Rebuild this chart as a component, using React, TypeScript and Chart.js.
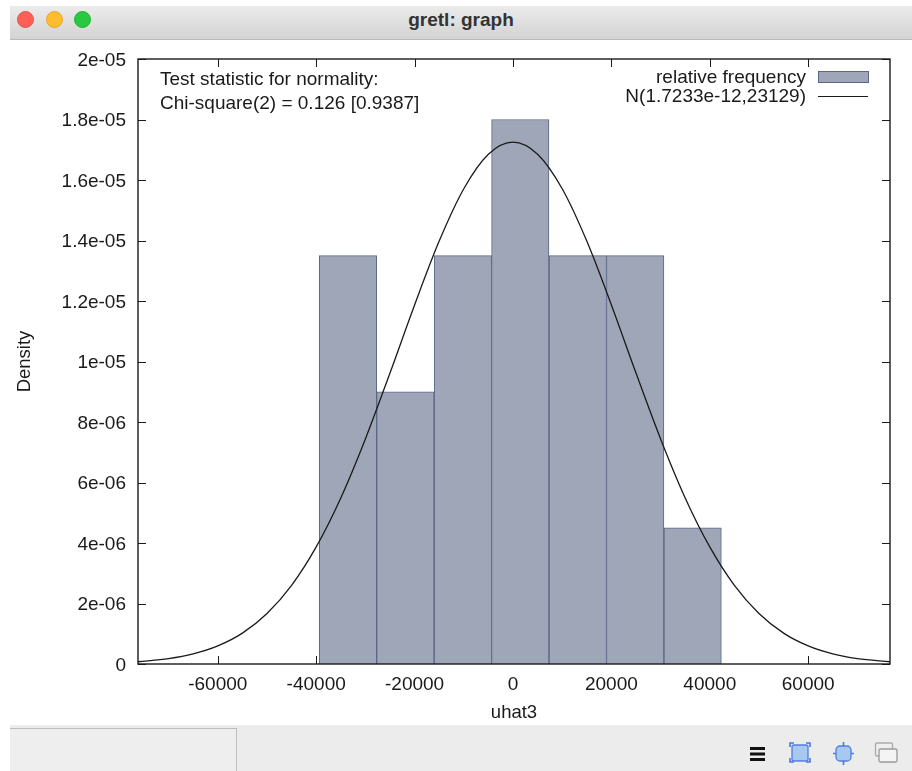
import React, { useEffect, useRef } from "react";
import { Chart, registerables } from "chart.js";

Chart.register(...registerables);

const binCentres = [-33540, -21870, -10180, 1480, 13170, 24840, 36520];
const binDensity = [1.35e-5, 0.9e-5, 1.35e-5, 1.8e-5, 1.35e-5, 1.35e-5, 0.45e-5];

const curveX = [-76220, -70000, -65000, -60000, -55000, -50000, -45000, -40000, -35000, -30000, -25000, -20000, -15000, -10000, -5000, 0, 5000, 10000, 15000, 20000, 25000, 30000, 35000, 40000, 45000, 50000, 55000, 60000, 65000, 70000, 76630];
const curveY = [0.075e-6, 0.177e-6, 0.333e-6, 0.597e-6, 1.02e-6, 1.67e-6, 2.6e-6, 3.87e-6, 5.49e-6, 7.44e-6, 9.62e-6, 11.87e-6, 13.98e-6, 15.71e-6, 16.85e-6, 17.25e-6, 16.85e-6, 15.71e-6, 13.98e-6, 11.87e-6, 9.62e-6, 7.44e-6, 5.49e-6, 3.87e-6, 2.6e-6, 1.67e-6, 1.02e-6, 0.597e-6, 0.333e-6, 0.177e-6, 0.075e-6];

const xTicks = [-60000, -40000, -20000, 0, 20000, 40000, 60000];
const yTicks = [0, 2e-6, 4e-6, 6e-6, 8e-6, 1e-5, 1.2e-5, 1.4e-5, 1.6e-5, 1.8e-5, 2e-5];
const yTickLabels = ["0", "2e-06", "4e-06", "6e-06", "8e-06", "1e-05", "1.2e-05", "1.4e-05", "1.6e-05", "1.8e-05", "2e-05"];

const barLabel = "relative frequency";
const curveLabel = "N(1.7233e-12,23129)";
const noteLines = ["Test statistic for normality:", "Chi-square(2) = 0.126 [0.9387]"];

const FONT = '"Liberation Sans", Arial, sans-serif';
const FONT_SIZE = 19;
const BAR_FILL = "#9fa6b8";
const BAR_EDGE = "#5b6784";
const INK = "#1a1a1a";
const TICK_LEN = 8;

const frameTicks = {
  id: "frameTicks",
  beforeDatasetsDraw(chart: any) {
    const { ctx, chartArea: a, scales } = chart;
    ctx.save();
    ctx.strokeStyle = INK;
    ctx.lineWidth = 1;
    ctx.beginPath();
    xTicks.forEach((v) => {
      const x = Math.round(scales.x.getPixelForValue(v)) + 0.5;
      ctx.moveTo(x, a.top);
      ctx.lineTo(x, a.top + TICK_LEN);
      ctx.moveTo(x, a.bottom);
      ctx.lineTo(x, a.bottom - TICK_LEN);
    });
    yTicks.forEach((v) => {
      const y = Math.round(scales.y.getPixelForValue(v)) + 0.5;
      ctx.moveTo(a.left, y);
      ctx.lineTo(a.left + TICK_LEN, y);
      ctx.moveTo(a.right, y);
      ctx.lineTo(a.right - TICK_LEN, y);
    });
    ctx.stroke();
    ctx.restore();
  },
  afterDatasetsDraw(chart: any) {
    const { ctx, chartArea: a } = chart;
    ctx.save();
    ctx.strokeStyle = INK;
    ctx.lineWidth = 1.4;
    ctx.strokeRect(a.left, a.top, a.right - a.left, a.bottom - a.top);

    ctx.fillStyle = INK;
    ctx.font = `${FONT_SIZE}px ${FONT}`;
    ctx.textBaseline = "middle";
    ctx.textAlign = "left";
    ctx.fillText(noteLines[0], 160, 79.5);
    ctx.fillText(noteLines[1], 160, 104);

    ctx.textAlign = "right";
    ctx.fillText(barLabel, 806, 78);
    ctx.fillText(curveLabel, 806, 97);

    ctx.fillStyle = BAR_FILL;
    ctx.strokeStyle = BAR_EDGE;
    ctx.lineWidth = 1;
    ctx.fillRect(818, 71, 50, 11);
    ctx.strokeRect(818.5, 71.5, 50, 11);

    ctx.strokeStyle = INK;
    ctx.beginPath();
    ctx.moveTo(818, 96.5);
    ctx.lineTo(868, 96.5);
    ctx.stroke();
    ctx.restore();
  },
};

export default function App() {
  const ref = useRef<HTMLCanvasElement | null>(null);

  useEffect(() => {
    document.body.style.margin = "0";
    document.body.style.background = "#fff";
    const chart = new Chart(ref.current as HTMLCanvasElement, {
      type: "bar",
      data: {
        datasets: [
          {
            type: "line",
            label: curveLabel,
            data: curveX.map((x, i) => ({ x, y: curveY[i] })),
            borderColor: INK,
            borderWidth: 1.3,
            pointRadius: 0,
            cubicInterpolationMode: "monotone",
            order: 0,
          },
          {
            type: "bar",
            label: barLabel,
            data: binCentres.map((x, i) => ({ x, y: binDensity[i] })),
            backgroundColor: BAR_FILL,
            borderColor: BAR_EDGE,
            borderWidth: 1,
            barPercentage: 1,
            categoryPercentage: 1,
            order: 1,
          },
        ],
      } as any,
      options: {
        animation: false,
        responsive: false,
        layout: { padding: { left: 14, top: 59, right: 22, bottom: 47 } },
        plugins: { legend: { display: false }, tooltip: { enabled: false } },
        scales: {
          x: {
            type: "linear",
            min: -76220,
            max: 76630,
            offset: false,
            grid: { display: false, drawTicks: false },
            border: { display: false },
            afterBuildTicks: (s: any) => {
              s.ticks = xTicks.map((value) => ({ value }));
            },
            afterFit: (s: any) => {
              s.height = 60;
            },
            ticks: {
              autoSkip: false,
              maxRotation: 0,
              padding: 9,
              color: INK,
              font: { family: FONT, size: FONT_SIZE },
              callback: (v: any) => String(v),
            },
            title: {
              display: true,
              text: "uhat3",
              color: INK,
              padding: 0,
              font: { family: FONT, size: FONT_SIZE - 0.5 },
            },
          },
          y: {
            min: 0,
            max: 2e-5,
            grid: { display: false, drawTicks: false },
            border: { display: false },
            afterBuildTicks: (s: any) => {
              s.ticks = yTicks.map((value) => ({ value }));
            },
            afterFit: (s: any) => {
              s.width = 124;
            },
            ticks: {
              autoSkip: false,
              padding: 12,
              labelOffset: 1.5,
              color: INK,
              font: { family: FONT, size: FONT_SIZE },
              callback: (_v: any, i: number) => yTickLabels[i],
            },
            title: {
              display: true,
              text: "Density",
              color: INK,
              padding: 0,
              font: { family: FONT, size: FONT_SIZE - 0.5 },
            },
          },
        },
      },
      plugins: [frameTicks],
    } as any);
    return () => chart.destroy();
  }, []);

  const light = (left: number, color: string, edge: string) => (
    <div
      style={{
        position: "absolute",
        left,
        top: 11,
        width: 17,
        height: 17,
        borderRadius: "50%",
        background: color,
        boxSizing: "border-box",
        border: `1px solid ${edge}`,
      }}
    />
  );

  return (
    <div style={{ position: "fixed", left: 0, top: 0, width: 912, height: 771, overflow: "hidden", background: "#fff" }}>
      <div
        style={{
          position: "absolute",
          left: 10,
          right: 0,
          top: 6,
          height: 33,
          background: "linear-gradient(#ebebeb, #d3d3d3)",
          borderBottom: "1px solid #b9b9b9",
        }}
      />
      {light(17, "#ff5f57", "#e9534c")}
      {light(46, "#febc2e", "#e8a825")}
      {light(74, "#28c840", "#22b337")}
      <div
        style={{
          position: "absolute",
          left: 10,
          right: 0,
          top: 6,
          height: 33,
          lineHeight: "29px",
          textAlign: "center",
          font: `bold 19px ${FONT}`,
          color: "#333",
          paddingTop: 3,
          boxSizing: "border-box",
        }}
      >
        gretl: graph
      </div>
      <canvas ref={ref} width={912} height={771} style={{ position: "absolute", left: 0, top: 0, display: "block" }} />
      <div style={{ position: "absolute", left: 10, right: 0, top: 725, height: 46, background: "#ececec" }} />
      <div
        style={{
          position: "absolute",
          left: 10,
          top: 728,
          width: 227,
          height: 43,
          background: "#eeeeee",
          borderTop: "1px solid #bdbdbd",
          borderRight: "1px solid #bdbdbd",
          boxSizing: "border-box",
        }}
      />
      <svg style={{ position: "absolute", left: 740, top: 735, width: 172, height: 36 }} viewBox="740 735 172 36">
        <rect x="750" y="747" width="15" height="3" fill="#111" />
        <rect x="750" y="752.5" width="15" height="3" fill="#111" />
        <rect x="750" y="758" width="15" height="3" fill="#111" />
        <rect x="792" y="745" width="16" height="16" rx="2" fill="#a9c8f0" stroke="#4f7fe0" strokeWidth="1.3" />
        <path d="M790 747v-4h4M806 743h4v4M790 758v4h4M806 762h4v-4" fill="none" stroke="#4f74e0" strokeWidth="1.6" />
        <rect x="836" y="746" width="15" height="15" rx="4" fill="#a9c8f0" stroke="#4f7fe0" strokeWidth="1.3" />
        <path d="M843.5 742v4M843.5 761v4M836 753.5h-3M851 753.5h3" fill="none" stroke="#4f74e0" strokeWidth="1.6" />
        <rect x="875.5" y="743" width="17" height="13" rx="1.5" fill="#eee" stroke="#aaa" strokeWidth="1.3" />
        <rect x="879" y="749" width="18" height="13" rx="1.5" fill="#f4f4f4" stroke="#999" strokeWidth="1.3" />
      </svg>
    </div>
  );
}
